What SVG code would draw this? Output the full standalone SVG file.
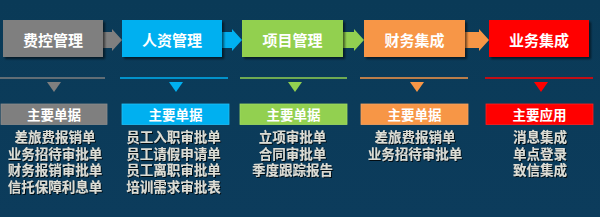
<svg xmlns="http://www.w3.org/2000/svg" width="600" height="217" viewBox="0 0 600 217">
<defs>
<linearGradient id="bg" x1="0" y1="0" x2="0" y2="1">
<stop offset="0" stop-color="#0a3a57"/>
<stop offset="1" stop-color="#0c3c5c"/>
</linearGradient>
<filter id="sh" x="-10%" y="-10%" width="130%" height="140%">
<feDropShadow dx="2" dy="2" stdDeviation="1.2" flood-color="#000" flood-opacity="0.55"/>
</filter>
<filter id="tsh" x="-10%" y="-20%" width="130%" height="160%">
<feDropShadow dx="1" dy="1" stdDeviation="0.4" flood-color="#000" flood-opacity="0.8"/>
</filter>
</defs>
<style>
.hd{font-family:"Noto Sans CJK SC",sans-serif;font-weight:bold;font-size:15px;fill:#fff;text-anchor:middle}
.sh{font-family:"Noto Sans CJK SC",sans-serif;font-weight:bold;font-size:13.5px;fill:#fff;text-anchor:middle}
.it{font-family:"Liberation Serif","Noto Sans CJK SC",serif;font-weight:bold;font-size:13.5px;fill:#dcdcd4;text-anchor:middle}
.ln{stroke-width:1.6}
</style>
<rect width="600" height="217" fill="url(#bg)"/>

<g id="connectors">
<polygon points="103,32 112,32 112,29 122,40 112,51 112,48 103,48" fill="#7f7f7f"/>
<polygon points="222,32 232,32 232,29 242,40 232,51 232,48 222,48" fill="#00b0f0"/>
<polygon points="343,32 354,32 354,29 364,40 354,51 354,48 343,48" fill="#92d050"/>
<polygon points="465,32 479,32 479,29 489,40 479,51 479,48 465,48" fill="#f79646"/>
</g>

<g id="col1">
<rect x="3" y="20" width="100" height="37" fill="#7f7f7f" filter="url(#sh)"/>
<text class="hd" x="53" y="45.5">费控管理</text>
<line class="ln" x1="0" y1="78" x2="105" y2="78" stroke="#7f7f7f"/>
<polygon points="47,82 61,82 54,92" fill="#7f7f7f"/>
<rect x="1" y="104" width="106" height="20.5" fill="#7f7f7f" stroke="#8c8c8c" stroke-width="0.8"/>
<text class="sh" x="54" y="119.5">主要单据</text>
<g filter="url(#tsh)">
<text class="it" x="55" y="142">差旅费报销单</text>
<text class="it" x="55" y="158.5">业务招待审批单</text>
<text class="it" x="55" y="175">财务报销审批单</text>
<text class="it" x="55" y="191.5">信托保障利息单</text>
</g>
</g>

<g id="col2">
<rect x="122" y="20" width="100" height="37" fill="#00b0f0" filter="url(#sh)"/>
<text class="hd" x="172" y="45.5">人资管理</text>
<line class="ln" x1="120" y1="78" x2="228" y2="78" stroke="#00b0f0"/>
<polygon points="169,82 183,82 176,92" fill="#00b0f0"/>
<rect x="122" y="104" width="107" height="20.5" fill="#00b0f0" stroke="#20c0f8" stroke-width="0.8"/>
<text class="sh" x="175.5" y="119.5">主要单据</text>
<g filter="url(#tsh)">
<text class="it" x="173.5" y="142">员工入职审批单</text>
<text class="it" x="173.5" y="158.5">员工请假申请单</text>
<text class="it" x="173.5" y="175">员工离职审批单</text>
<text class="it" x="173.5" y="191.5">培训需求审批表</text>
</g>
</g>

<g id="col3">
<rect x="242" y="20" width="101" height="37" fill="#92d050" filter="url(#sh)"/>
<text class="hd" x="292.5" y="45.5">项目管理</text>
<line class="ln" x1="240" y1="78" x2="347" y2="78" stroke="#92d050"/>
<polygon points="288,82 302,82 295,92" fill="#92d050"/>
<rect x="240" y="104" width="107" height="20.5" fill="#92d050" stroke="#a0dc60" stroke-width="0.8"/>
<text class="sh" x="293.5" y="119.5">主要单据</text>
<g filter="url(#tsh)">
<text class="it" x="292.5" y="142">立项审批单</text>
<text class="it" x="292.5" y="158.5">合同审批单</text>
<text class="it" x="292.5" y="175">季度跟踪报告</text>
</g>
</g>

<g id="col4">
<rect x="364" y="20" width="101" height="37" fill="#f79646" filter="url(#sh)"/>
<text class="hd" x="414.5" y="45.5">财务集成</text>
<line class="ln" x1="360" y1="78" x2="468" y2="78" stroke="#f79646"/>
<polygon points="410,82 424,82 417,92" fill="#f79646"/>
<rect x="361" y="104" width="107" height="20.5" fill="#f79646" stroke="#f8a460" stroke-width="0.8"/>
<text class="sh" x="414.5" y="119.5">主要单据</text>
<g filter="url(#tsh)">
<text class="it" x="415" y="142">差旅费报销单</text>
<text class="it" x="415" y="158.5">业务招待审批单</text>
</g>
</g>

<g id="col5">
<rect x="489" y="20" width="100" height="37" fill="#ff0000" filter="url(#sh)"/>
<text class="hd" x="539" y="45.5">业务集成</text>
<line class="ln" x1="485" y1="78" x2="593" y2="78" stroke="#ff0000"/>
<polygon points="534,82 548,82 541,92" fill="#ff0000"/>
<rect x="486" y="104" width="107" height="20.5" fill="#ff0000" stroke="#ff2020" stroke-width="0.8"/>
<text class="sh" x="539.5" y="119.5">主要应用</text>
<g filter="url(#tsh)">
<text class="it" x="540" y="142">消息集成</text>
<text class="it" x="540" y="158.5">单点登录</text>
<text class="it" x="540" y="175">致信集成</text>
</g>
</g>
</svg>
